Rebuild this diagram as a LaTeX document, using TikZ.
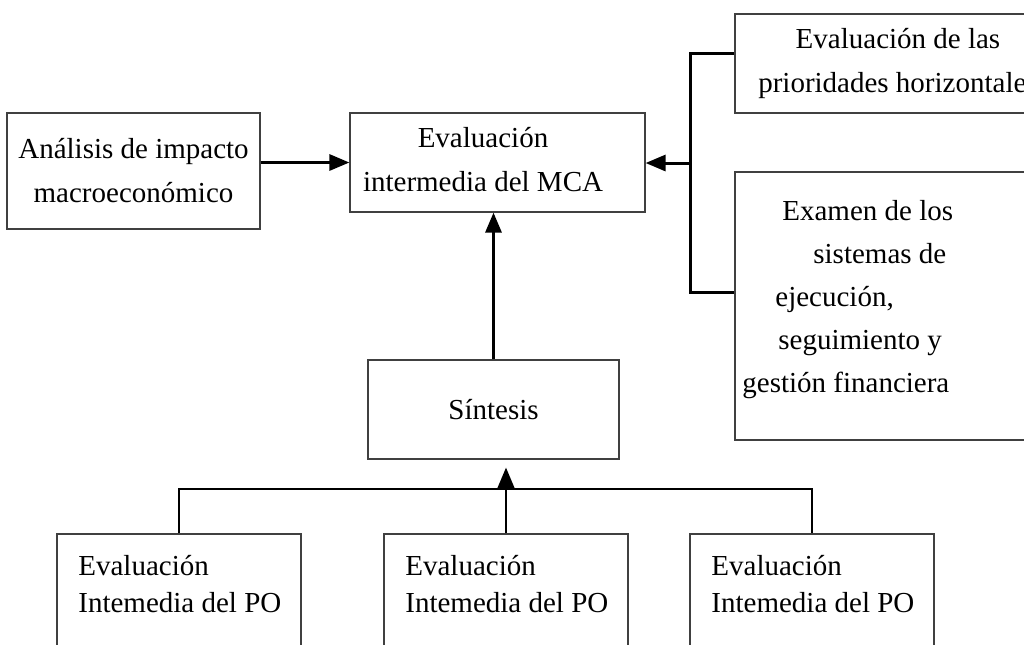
\documentclass[tikz,border=0pt]{standalone}
\usepackage{fontspec}
\setmainfont{Liberation Serif}
\usetikzlibrary{arrows.meta}

\begin{document}
\begin{tikzpicture}[x=0.5pt, y=-0.5pt,
  box/.style={draw=black!75, line width=0.6pt, rectangle, inner sep=0pt, align=center, font=\fontsize{14.5}{22}\selectfont},
  txt/.style={inner sep=0pt, font=\fontsize{14.5}{22}\selectfont},
  link/.style={line width=1.5pt, -{Triangle[length=10pt, width=8pt]}}]
\useasboundingbox (0,0) rectangle (1024,644);
\clip (0,0) rectangle (1024,644);

\node[box, minimum width=126.5pt, minimum height=58pt] (ana) at (133.5,171) {Análisis de impacto\\macroeconómico};
\node[box, minimum width=147.5pt, minimum height=49.5pt] (mca) at (497.5,162.5) {};
\node[txt, align=center, anchor=north] (mcatxt) at (483,127) {Evaluación\\intermedia del MCA};
\node[box, minimum width=163pt, minimum height=49.5pt] (prio) at (898,63.5) {Evaluación de las\\prioridades horizontales};
\node[box, minimum width=163pt, minimum height=134pt] (exam) at (898,306) {};
\node[txt, align=left, anchor=north west, font=\fontsize{14.5}{21.5}\selectfont] (examtxt) at (742,200)
  {\hspace*{20pt}Examen de los\\\hspace*{35.5pt}sistemas de\\\hspace*{16.5pt}ejecución,\\\hspace*{18pt}seguimiento y\\gestión financiera};
\node[box, minimum width=125.5pt, minimum height=49.5pt] (sin) at (493.5,409.5) {Síntesis};

\node[box, minimum width=122pt, minimum height=80pt] (po1) at (179,614) {};
\node[box, minimum width=122pt, minimum height=80pt] (po2) at (506,614) {};
\node[box, minimum width=122pt, minimum height=80pt] (po3) at (812,614) {};
\node[txt, align=left, anchor=north west, font=\fontsize{14.5}{18.5}\selectfont] (po1txt) at (78,555) {Evaluación\\Intemedia del PO};
\node[txt, align=left, anchor=north west, font=\fontsize{14.5}{18.5}\selectfont] (po2txt) at (405,555) {Evaluación\\Intemedia del PO};
\node[txt, align=left, anchor=north west, font=\fontsize{14.5}{18.5}\selectfont] (po3txt) at (711,555) {Evaluación\\Intemedia del PO};

\coordinate (jt) at (690,53);
\coordinate (jm) at (690,163);
\coordinate (jb) at (690,292);
\coordinate (hb) at (506,489);

\draw[link] (ana.east |- mca.west) -- (mca.west);
\draw[link] (sin.north) -- (sin.north |- mca.south);
\draw[line width=1.5pt] (jt -| prio.west) -- (jt) -- (jb) -- (jb -| exam.west);
\draw[link] (jm) -- (jm -| mca.east);
\draw[line width=1pt] (po1.north) -- (po1.north |- hb) -- (po3.north |- hb) -- (po3.north);
\draw[line width=1pt, -{Triangle[length=11pt, width=9pt]}, shorten >=4pt] (po2.north) -- (po2.north |- sin.south);
\end{tikzpicture}
\end{document}
